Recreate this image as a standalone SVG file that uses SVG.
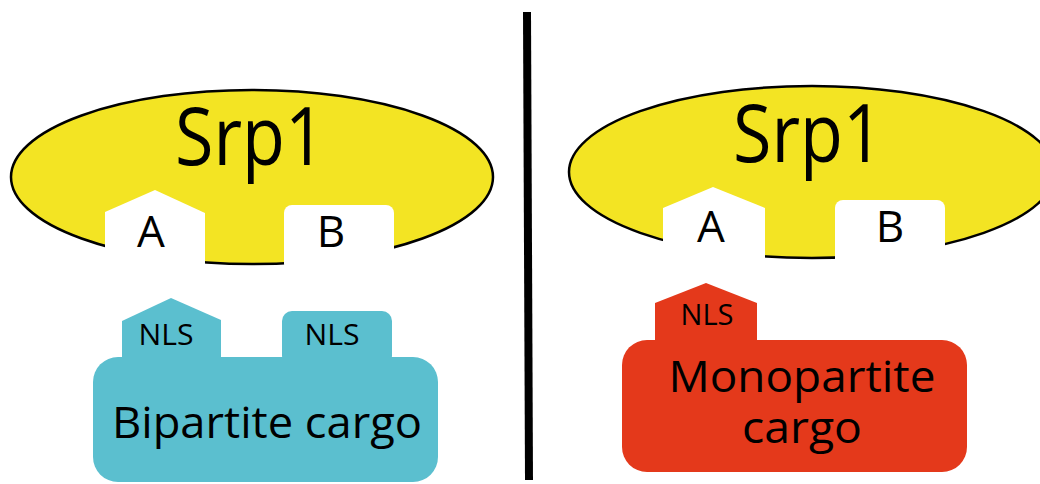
<svg xmlns="http://www.w3.org/2000/svg" width="1040" height="484" viewBox="0 0 1040 484">
<style>
.srp{fill:#F3E423;stroke:#000;stroke-width:2.5}
.pocket{fill:#fff}
.bip{fill:#5BBFCF}
.mono{fill:#E4391B}
text{font-family:"Open Sans","Noto Sans",sans-serif;fill:#000;text-anchor:middle}
.big{font-size:80px}
.site{font-size:44px}
.nls{font-size:30px}
.cargo{font-size:43px}
</style>
<rect width="1040" height="484" fill="#fff"/>
<g id="srp1-left">
<ellipse class="srp" cx="252" cy="177" rx="241" ry="87"/>
<polygon class="pocket" points="105,272 105,212 155,190 205,213 205,272"/>
<rect class="pocket" x="284" y="205" width="110" height="67" rx="8"/>
<text class="big" x="250" y="165" textLength="150" lengthAdjust="spacingAndGlyphs">Srp1</text>
<text class="site" x="151" y="247">A</text>
<text class="site" x="331" y="247">B</text>
</g>
<g id="srp1-right">
<ellipse class="srp" cx="812" cy="172" rx="243" ry="86"/>
<polygon class="pocket" points="663,268 663,208 713,187 765,208 765,268"/>
<rect class="pocket" x="835" y="200" width="110" height="68" rx="8"/>
<text class="big" x="808" y="162" textLength="150" lengthAdjust="spacingAndGlyphs">Srp1</text>
<text class="site" x="711" y="242">A</text>
<text class="site" x="890" y="242">B</text>
</g>
<g id="bipartite-cargo">
<polygon class="bip" points="122,362 122,321 171,298 221,320 221,362"/>
<rect class="bip" x="282" y="311" width="110" height="55" rx="10"/>
<rect class="bip" x="93" y="357" width="345" height="125" rx="25"/>
<text class="nls" x="166" y="345" textLength="55" lengthAdjust="spacingAndGlyphs">NLS</text>
<text class="nls" x="332" y="345" textLength="55" lengthAdjust="spacingAndGlyphs">NLS</text>
<text class="cargo" x="267" y="438" textLength="310" lengthAdjust="spacingAndGlyphs">Bipartite cargo</text>
</g>
<g id="monopartite-cargo">
<polygon class="mono" points="655,345 655,303 706,283 757,303 757,345"/>
<rect class="mono" x="622" y="340" width="345" height="132" rx="25"/>
<text class="nls" x="707" y="325" textLength="53" lengthAdjust="spacingAndGlyphs">NLS</text>
<text class="cargo" x="802" y="392" textLength="267" lengthAdjust="spacingAndGlyphs">Monopartite</text>
<text class="cargo" x="802" y="443" textLength="120" lengthAdjust="spacingAndGlyphs">cargo</text>
</g>
<g id="connectors">
<line x1="527" y1="12" x2="529" y2="480" stroke="#000" stroke-width="8"/>
</g>
</svg>
